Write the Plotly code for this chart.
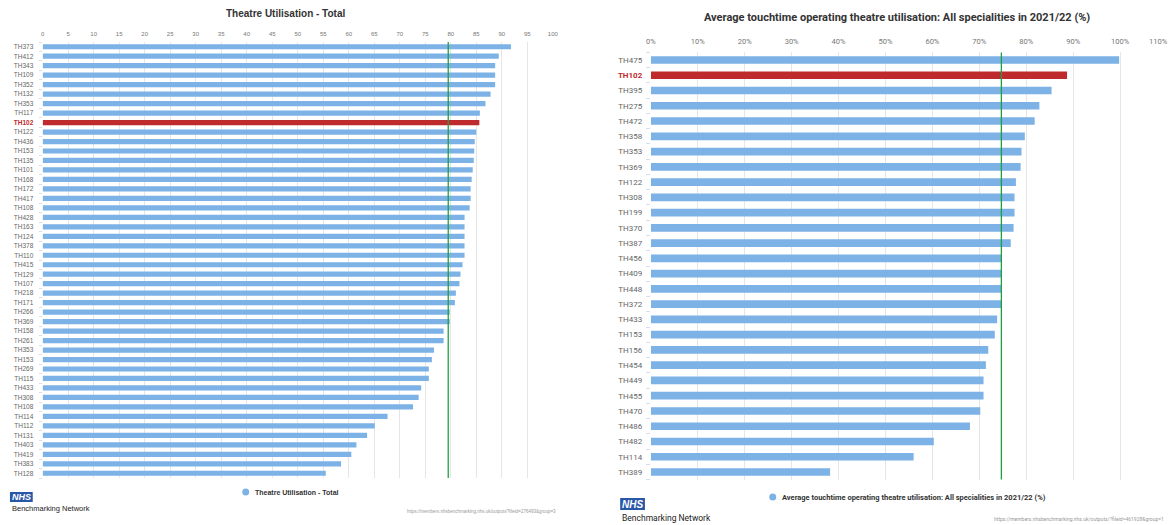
import plotly.graph_objects as go

W, H = 1173, 525

# ---- Panel 1: Theatre Utilisation - Total ----
left_labels = [
    "TH373", "TH412", "TH343", "TH109", "TH352", "TH132", "TH353", "TH117", "TH102",
    "TH122", "TH436", "TH153", "TH135", "TH101", "TH168", "TH172", "TH417", "TH108",
    "TH428", "TH163", "TH124", "TH378", "TH110", "TH415", "TH129", "TH107", "TH218",
    "TH171", "TH266", "TH369", "TH158", "TH261", "TH353", "TH153", "TH269", "TH115",
    "TH433", "TH308", "TH108", "TH114", "TH112", "TH131", "TH403", "TH419", "TH383",
    "TH128",
]
left_values = [
    91.8, 89.4, 88.7, 88.7, 88.7, 87.8, 86.8, 85.7, 85.6,
    85.0, 84.7, 84.6, 84.5, 84.3, 84.1, 83.9, 83.9, 83.7,
    82.7, 82.7, 82.7, 82.7, 82.7, 82.3, 81.9, 81.7, 81.0,
    80.8, 79.8, 79.8, 78.6, 78.6, 76.7, 76.3, 75.7, 75.7,
    74.2, 73.7, 72.6, 67.6, 65.1, 63.6, 61.5, 60.5, 58.5,
    55.5,
]
left_target = 79.5
left_ticks = list(range(0, 101, 5))
left_title = "Theatre Utilisation - Total"

# ---- Panel 2: Average touchtime operating theatre utilisation ----
right_labels = [
    "TH475", "TH102", "TH395", "TH275", "TH472", "TH358", "TH353", "TH369", "TH122",
    "TH308", "TH199", "TH370", "TH387", "TH456", "TH409", "TH448", "TH372", "TH433",
    "TH153", "TH156", "TH454", "TH449", "TH455", "TH470", "TH486", "TH482", "TH114",
    "TH389",
]
right_values = [
    99.8, 88.7, 85.4, 82.8, 81.8, 79.7, 79.0, 78.8, 77.8,
    77.5, 77.5, 77.3, 76.7, 74.8, 74.8, 74.8, 74.8, 73.8,
    73.3, 71.9, 71.4, 70.9, 70.9, 70.2, 68.0, 60.3, 56.0,
    38.2,
]
right_target = 74.7
right_ticks = list(range(0, 111, 10))
right_title = "Average touchtime operating theatre utilisation: All specialities in 2021/22 (%)"

highlight = "TH102"
BLUE = "#7cb2e6"
RED = "#bf2a2c"
GREEN = "#1f9e45"
GRID = "#e6e6e6"
TICKFONT = "#777777"
NHS_BLUE = "#2a56a8"

SANS = "Liberation Sans, Arial, sans-serif"
NARROW = "Liberation Sans Narrow, Roboto, Arial, sans-serif"


def px_x(v):
    return v / W


def px_y(v):
    return 1 - v / H


def tick_text(labels):
    out = []
    for lab in labels:
        if lab == highlight:
            out.append(f"<b><span style='color:{RED}'>{lab}</span></b>")
        else:
            out.append(lab)
    return out


fig = go.Figure()

left_pos = list(range(len(left_labels)))
right_pos = list(range(len(right_labels)))

fig.add_trace(go.Bar(
    x=left_values, y=left_pos, orientation="h", width=0.55,
    marker=dict(color=[RED if l == highlight else BLUE for l in left_labels], line=dict(width=0)),
    xaxis="x", yaxis="y", showlegend=False, hoverinfo="x",
))
fig.add_trace(go.Bar(
    x=right_values, y=right_pos, orientation="h", width=0.5,
    marker=dict(color=[RED if l == highlight else BLUE for l in right_labels], line=dict(width=0)),
    xaxis="x2", yaxis="y2", showlegend=False, hoverinfo="x",
))

fig.update_layout(
    width=W, height=H,
    margin=dict(l=0, r=0, t=0, b=0),
    paper_bgcolor="white", plot_bgcolor="white",
    bargap=0.4,
    xaxis=dict(
        domain=[px_x(38), px_x(553)], range=[0, 100], side="top", anchor="y",
        tickmode="array", tickvals=left_ticks, ticktext=[str(t) for t in left_ticks],
        tickfont=dict(family=SANS, size=6, color=TICKFONT),
        showgrid=True, gridcolor=GRID, gridwidth=1, zeroline=False, showline=False,
        ticks="outside", ticklen=3, tickcolor="rgba(0,0,0,0)",
    ),
    yaxis=dict(
        domain=[px_y(478), px_y(42)], range=[len(left_labels) - 0.5, -0.5], anchor="x",
        tickmode="array", tickvals=left_pos, ticktext=tick_text(left_labels),
        tickfont=dict(family=SANS, size=6.5, color="#666666"),
        showgrid=False, zeroline=False, showline=False,
        ticks="outside", ticklen=7, tickcolor="rgba(0,0,0,0)",
        minor=dict(tickmode="array", tickvals=[p + 0.5 for p in [-1] + left_pos],
                   ticks="outside", ticklen=3, tickcolor="#d8dde8", showgrid=False),
    ),
    xaxis2=dict(
        domain=[px_x(652), 1.0], range=[0, 110], side="top", anchor="y2",
        tickmode="array", tickvals=right_ticks[:-1], ticktext=[f"{t}%" for t in right_ticks[:-1]],
        tickfont=dict(family=NARROW, size=7.5, color=TICKFONT),
        showgrid=True, gridcolor=GRID, gridwidth=1, zeroline=False, showline=False,
        ticks="outside", ticklen=4, tickcolor="rgba(0,0,0,0)",
    ),
    yaxis2=dict(
        domain=[px_y(479.6), px_y(52.4)], range=[len(right_labels) - 0.5, -0.5], anchor="x2",
        tickmode="array", tickvals=right_pos, ticktext=tick_text(right_labels),
        tickfont=dict(family=NARROW, size=8, color="#666666"),
        showgrid=False, zeroline=False, showline=False,
        ticks="outside", ticklen=6, tickcolor="rgba(0,0,0,0)",
        minor=dict(tickmode="array", tickvals=[p + 0.5 for p in [-1] + right_pos],
                   ticks="outside", ticklen=4, tickcolor="#d8dde8", showgrid=False),
    ),
)

shapes = []
annotations = []


def label(x, y, text, family, size, color, xanchor="center"):
    annotations.append(dict(xref="paper", yref="paper", x=px_x(x), y=px_y(y),
                            xanchor=xanchor, yanchor="middle", text=text, showarrow=False,
                            font=dict(family=family, size=size, color=color)))


# target lines
shapes.append(dict(type="line", xref="x", yref="y domain", x0=left_target, x1=left_target,
                   y0=0, y1=1, line=dict(color=GREEN, width=1.3)))
shapes.append(dict(type="line", xref="x2", yref="y2 domain", x0=right_target, x1=right_target,
                   y0=0, y1=1, line=dict(color=GREEN, width=1.3)))

# last percentage label sits inside the right edge
label(1164, 42, f"{right_ticks[-1]}%", NARROW, 7.5, TICKFONT)

# titles
label(283, 14, f"<b>{left_title}</b>", SANS, 10, "#333333")
label(900, 17, f"<b>{right_title}</b>", NARROW, 11, "#333333")


def legend_item(cx, cy, r, text, family, size):
    shapes.append(dict(type="circle", xref="paper", yref="paper",
                       x0=px_x(cx - r), x1=px_x(cx + r), y0=px_y(cy + r), y1=px_y(cy - r),
                       fillcolor=BLUE, line=dict(width=0)))
    label(cx + r + 4, cy, f"<b>{text}</b>", family, size, "#333333", xanchor="left")


legend_item(243, 492, 3.5, left_title, SANS, 7)
legend_item(775, 497, 3.5, right_title, NARROW, 7.5)


def nhs_logo(x0, y0, w, h, size):
    shapes.append(dict(type="rect", xref="paper", yref="paper",
                       x0=px_x(x0), x1=px_x(x0 + w), y0=px_y(y0 + h), y1=px_y(y0),
                       fillcolor=NHS_BLUE, line=dict(width=0)))
    label(x0 + w / 2, y0 + h / 2, "<b><i>NHS</i></b>", SANS, size, "white")


nhs_logo(5, 492, 23, 10, 9)
label(5, 508, "Benchmarking Network", SANS, 7.5, "#222222", xanchor="left")
nhs_logo(621, 498, 25, 12, 10)
label(621, 518, "Benchmarking Network", NARROW, 8.5, "#222222", xanchor="left")

# source links
label(558, 511, "https://members.nhsbenchmarking.nhs.uk/outputs?fileid=276493&group=3",
      SANS, 4.5, "#999999", xanchor="right")
label(1172, 519, "https://members.nhsbenchmarking.nhs.uk/outputs/?fileid=461928&group=1",
      NARROW, 5, "#999999", xanchor="right")

fig.update_layout(shapes=shapes, annotations=annotations)

fig.write_html("out.html")
